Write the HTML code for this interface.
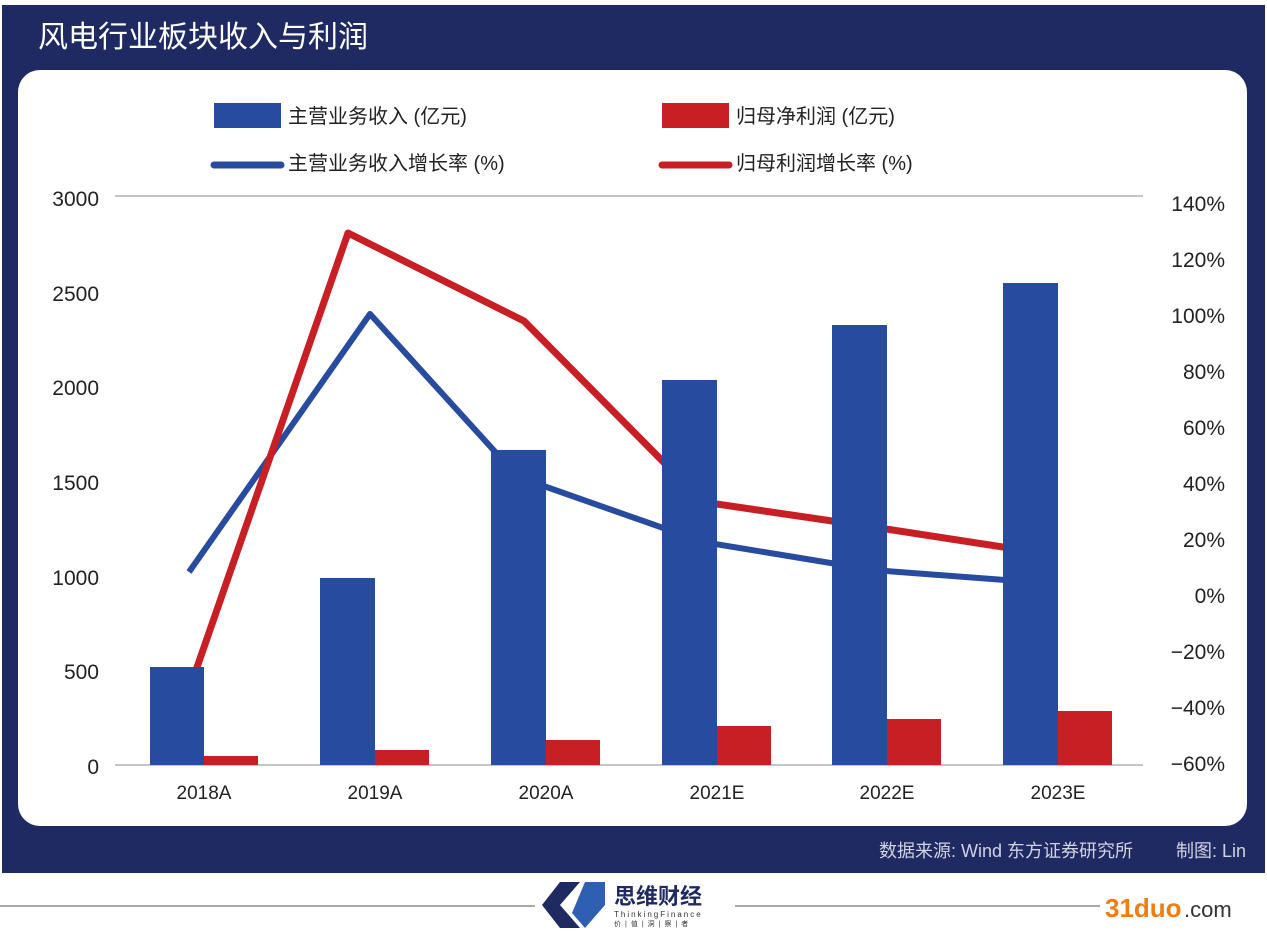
<!DOCTYPE html>
<html><head><meta charset="utf-8"><style>
body{margin:0;width:1267px;height:930px;background:#fff;overflow:hidden;font-family:"Liberation Sans","Noto Sans CJK SC",sans-serif}
</style></head><body>
<svg width="1267" height="930" xmlns="http://www.w3.org/2000/svg" font-family="Liberation Sans, Noto Sans CJK SC, sans-serif">
<rect x="2" y="5" width="1263" height="868" fill="#1f2a63"/>
<text x="38" y="47" font-size="30" fill="#fff">风电行业板块收入与利润</text>
<rect x="18" y="70" width="1229" height="756" rx="22" fill="#fff"/>
<rect x="214" y="103" width="67" height="25" fill="#274b9e"/>
<text x="288" y="123" font-size="20" fill="#222">主营业务收入 (亿元)</text>
<rect x="662" y="103" width="67" height="25" fill="#c81f24"/>
<text x="736" y="123" font-size="20" fill="#222">归母净利润 (亿元)</text>
<line x1="214" y1="165" x2="281" y2="165" stroke="#274b9e" stroke-width="7" stroke-linecap="round"/>
<text x="288" y="170" font-size="20" fill="#222">主营业务收入增长率 (%)</text>
<line x1="662" y1="165" x2="729" y2="165" stroke="#c81f24" stroke-width="7" stroke-linecap="round"/>
<text x="736" y="170" font-size="20" fill="#222">归母利润增长率 (%)</text>
<line x1="115" y1="196" x2="1143" y2="196" stroke="#888" stroke-width="1"/>
<line x1="115" y1="765" x2="1143" y2="765" stroke="#888" stroke-width="1"/>
<g font-size="21" fill="#222" text-anchor="end">
<text x="99" y="206">3000</text><text x="99" y="301">2500</text><text x="99" y="395">2000</text>
<text x="99" y="490">1500</text><text x="99" y="585">1000</text><text x="99" y="679">500</text><text x="99" y="774">0</text>
</g>
<g font-size="21" fill="#222" text-anchor="end">
<text x="1225" y="211">140%</text><text x="1225" y="267">120%</text><text x="1225" y="323">100%</text>
<text x="1225" y="379">80%</text><text x="1225" y="435">60%</text><text x="1225" y="491">40%</text>
<text x="1225" y="547">20%</text><text x="1225" y="603">0%</text><text x="1225" y="659">−20%</text>
<text x="1225" y="715">−40%</text><text x="1225" y="771">−60%</text>
</g>
<polyline points="189,572 370,314 518,477 703,542 873,570 1005,580" fill="none" stroke="#274b9e" stroke-width="6" stroke-linejoin="round"/>
<polyline points="179,719 348,233 524,321 703,502 873,527 1042,553" fill="none" stroke="#c81f24" stroke-width="7" stroke-linejoin="round"/>
<g fill="#274b9e">
<rect x="150" y="667" width="54" height="98"/><rect x="320" y="578" width="55" height="187"/>
<rect x="491" y="450" width="55" height="315"/><rect x="662" y="380" width="55" height="385"/>
<rect x="832" y="325" width="55" height="440"/><rect x="1003" y="283" width="55" height="482"/>
</g>
<g fill="#c81f24">
<rect x="204" y="756" width="54" height="9"/><rect x="375" y="750" width="54" height="15"/>
<rect x="546" y="740" width="54" height="25"/><rect x="717" y="726" width="54" height="39"/>
<rect x="887" y="719" width="54" height="46"/><rect x="1058" y="711" width="54" height="54"/>
</g>
<g font-size="19" fill="#222" text-anchor="middle">
<text x="204" y="799">2018A</text><text x="375" y="799">2019A</text><text x="546" y="799">2020A</text>
<text x="717" y="799">2021E</text><text x="887" y="799">2022E</text><text x="1058" y="799">2023E</text>
</g>
<text x="1133" y="857" font-size="18" fill="#d0d3e0" text-anchor="end">数据来源: Wind  东方证券研究所</text>
<text x="1246" y="857" font-size="18" fill="#d0d3e0" text-anchor="end">制图: Lin</text>
<line x1="0" y1="906" x2="535" y2="906" stroke="#aaa" stroke-width="2"/>
<line x1="735" y1="906" x2="1100" y2="906" stroke="#aaa" stroke-width="2"/>
<path d="M560 882 L580 882 L560 905 L580 928 L560 928 L542 905 Z" fill="#1f2a63"/>
<path d="M585 882 L605 882 L605 905 L585 928 L572 913 Z" fill="#2f5fb0"/>
<text x="614" y="904" font-size="22" font-weight="bold" fill="#1f2a63">思维财经</text>
<text x="614" y="917" font-size="8" fill="#333" letter-spacing="2">ThinkingFinance</text>
<text x="614" y="926" font-size="7" fill="#333" letter-spacing="4">价|值|洞|察|者</text>
<text x="1105" y="917" font-size="26" font-weight="bold" fill="#f07d10">31duo</text>
<text x="1184" y="917" font-size="22" fill="#333">.com</text>
</svg>
</body></html>
